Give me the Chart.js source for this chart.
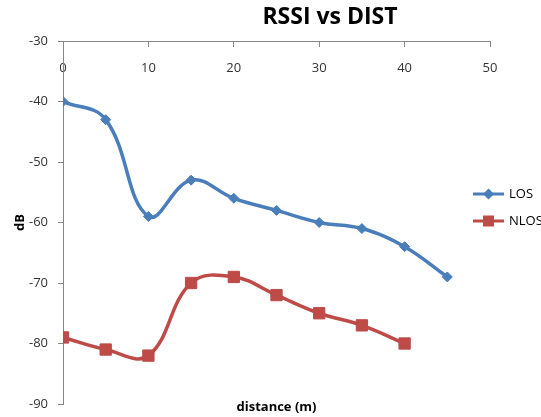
<!DOCTYPE html>
<html>
<head>
<meta charset="utf-8">
<title>RSSI vs DIST</title>
<script src="https://cdn.jsdelivr.net/npm/chart.js@4.4.0/dist/chart.umd.min.js"></script>
<style>
  html, body { margin: 0; padding: 0; background: #fff; }
  #wrap { position: relative; width: 541px; height: 417px; }
  #chartTitle {
    position: absolute; left: 230px; top: -1px; width: 200px;
    text-align: center; font: bold 23px "Open Sans"; line-height: normal; color: #000;
  }
</style>
</head>
<body>
<div id="wrap">
  <canvas id="rssiChart" width="541" height="417"></canvas>
  <div id="chartTitle">RSSI vs DIST</div>
</div>
<script>
// dati
const distances = [0, 5, 10, 15, 20, 25, 30, 35, 40, 45];
const losValues = [-40, -43, -59, -53, -56, -58, -60, -61, -64, -69];
const nlosValues = [-79, -81, -82, -70, -69, -72, -75, -77, -80];
const seriesNames = ['LOS', 'NLOS'];
const xTicks = [0, 10, 20, 30, 40, 50];
const yTicks = [-90, -80, -70, -60, -50, -40, -30];

const losColor = '#4a7ebb';
const nlosColor = '#be4b48';
const axisColor = '#868686';
const FONT = 'Open Sans';

const toPoints = (vals) => vals.map((v, i) => ({ x: distances[i], y: v }));

// icona legenda: linea + marker, come in Excel
function legendIcon(color, shape) {
  const c = document.createElement('canvas');
  c.width = 31; c.height = 14;
  const g = c.getContext('2d');
  g.strokeStyle = color; g.lineWidth = 3;
  g.beginPath(); g.moveTo(0, 7); g.lineTo(31, 7); g.stroke();
  g.fillStyle = color;
  g.beginPath();
  if (shape === 'diamond') {
    g.moveTo(15.5, 1.5); g.lineTo(21, 7); g.lineTo(15.5, 12.5); g.lineTo(10, 7);
  } else {
    g.rect(10, 1.5, 11, 11);
  }
  g.closePath(); g.fill();
  return c;
}
const legendIcons = [legendIcon(losColor, 'diamond'), legendIcon(nlosColor, 'square')];

// sposta la legenda sopra il bordo destro dell'area del grafico
const LEGEND_NUDGE = { x: -29.5, y: -21.5 };
const nudgeLegend = {
  id: 'nudgeLegend',
  afterLayout(chart) {
    const lg = chart.legend;
    if (!lg) return;
    lg.left += LEGEND_NUDGE.x;
    lg.width = lg.right - lg.left;
    lg.top += LEGEND_NUDGE.y;
    lg.bottom += LEGEND_NUDGE.y;
  }
};

new Chart(document.getElementById('rssiChart'), {
  type: 'scatter',
  data: {
    datasets: [
      {
        label: seriesNames[0],
        data: toPoints(losValues),
        showLine: true, tension: 0.4,
        borderColor: losColor, backgroundColor: losColor, borderWidth: 3.5,
        pointStyle: 'rectRot', pointRadius: 5, pointBorderWidth: 1
      },
      {
        label: seriesNames[1],
        data: toPoints(nlosValues),
        showLine: true, tension: 0.4,
        borderColor: nlosColor, backgroundColor: nlosColor, borderWidth: 3.5,
        pointStyle: 'rect', pointRadius: 8, pointBorderWidth: 1
      }
    ]
  },
  options: {
    responsive: false,
    animation: false,
    layout: { padding: { top: 41, left: 5, right: 0, bottom: 0 } },
    scales: {
      x: {
        type: 'linear', min: 0, max: 50,
        position: { y: -30 },
        afterBuildTicks: (s) => { s.ticks = xTicks.map(v => ({ value: v })); },
        ticks: { padding: 14, color: '#333', font: { family: FONT, size: 13 } },
        grid: { drawOnChartArea: false, tickLength: 5, color: axisColor },
        border: { color: axisColor }
      },
      y: {
        min: -90, max: -30,
        afterBuildTicks: (s) => { s.ticks = yTicks.map(v => ({ value: v })); },
        afterFit: (s) => { s.width = 58; },
        // padding piccolo: lo spazio tra etichette e asse viene dal tick lungo,
        // di cui si disegnano solo gli ultimi 5px
        ticks: { padding: 3, color: '#333', font: { family: FONT, size: 13 } },
        grid: {
          drawOnChartArea: false, tickLength: 12, color: axisColor,
          tickBorderDash: [0, 7, 5, 50]
        },
        border: { color: axisColor },
        title: {
          display: true, text: 'dB', color: '#000',
          font: { family: FONT, size: 13, weight: 'bold' },
          padding: { top: 7, bottom: 1 }
        }
      }
    },
    plugins: {
      tooltip: { enabled: false },
      title: { display: false },
      subtitle: {
        display: true, position: 'bottom', fullSize: false,
        text: 'distance (m)', color: '#000',
        font: { family: FONT, size: 13, weight: 'bold', lineHeight: 1 },
        padding: { top: -3, bottom: 3 }
      },
      legend: {
        position: 'right',
        maxWidth: 51,
        labels: {
          usePointStyle: true, pointStyleWidth: 28,
          padding: 14, color: '#000',
          font: { family: FONT, size: 13 },
          generateLabels(chart) {
            const items = Chart.defaults.plugins.legend.labels.generateLabels(chart);
            items.forEach((it, i) => { it.pointStyle = legendIcons[i]; });
            return items;
          }
        }
      }
    }
  },
  plugins: [nudgeLegend]
});
</script>
</body>
</html>
